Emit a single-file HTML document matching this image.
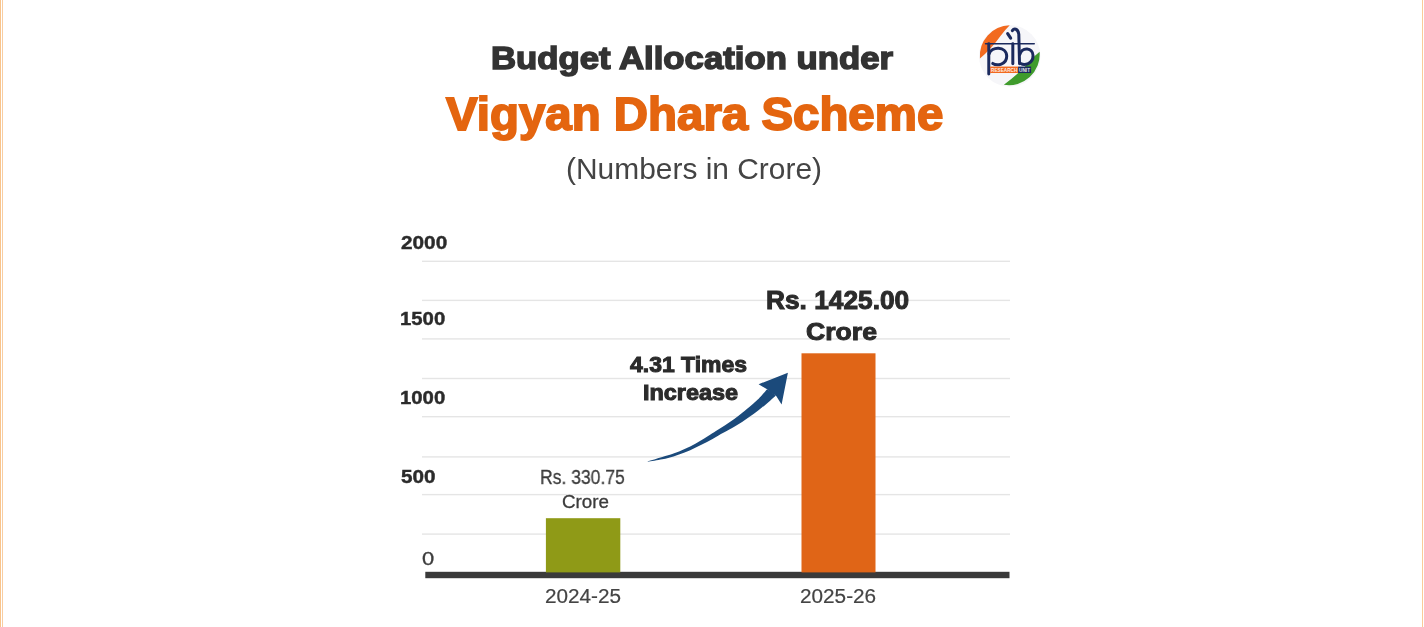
<!DOCTYPE html>
<html><head><meta charset="utf-8"><title>Vigyan Dhara Scheme</title>
<style>
html,body{margin:0;padding:0;background:#fff;}
body{width:1424px;height:627px;position:relative;overflow:hidden;font-family:"Liberation Sans",sans-serif;}
.t{position:absolute;white-space:nowrap;line-height:1;transform-origin:left top;display:block;will-change:transform;}
svg{position:absolute;left:0;top:0;}
</style></head><body>
<svg width="1424" height="627" viewBox="0 0 1424 627">
<!-- side borders -->
<rect x="0" y="0" width="1" height="627" fill="#f8c48c"/>
<rect x="2" y="0" width="1" height="627" fill="#f9cda0"/>
<rect x="1422" y="0" width="1" height="627" fill="#fbcb98"/>
<!-- gridlines -->
<rect x="422" y="260.6" width="588" height="1.4" fill="#e5e5e5"/>
<rect x="422" y="299.7" width="588" height="1.4" fill="#e5e5e5"/>
<rect x="422" y="338.2" width="588" height="1.4" fill="#e5e5e5"/>
<rect x="422" y="377.8" width="588" height="1.4" fill="#e5e5e5"/>
<rect x="422" y="416.0" width="588" height="1.4" fill="#e5e5e5"/>
<rect x="422" y="456.2" width="588" height="1.4" fill="#e5e5e5"/>
<rect x="422" y="493.9" width="588" height="1.4" fill="#e5e5e5"/>
<rect x="422" y="533.4" width="588" height="1.4" fill="#e5e5e5"/>
<!-- axis -->
<rect x="425.3" y="571.8" width="584.2" height="6.4" fill="#3a3a3a"/>
<!-- bars -->
<rect x="545.9" y="518.2" width="74.4" height="54.2" fill="#8f9a17"/>
<rect x="801.5" y="353.3" width="74" height="219.1" fill="#e06517"/>
<!-- arrow -->
<g fill="#1b4a7b">
<path d="M647.8,461.2 C650.2,460.5 658.0,458.2 662.3,456.9 C666.6,455.6 669.8,454.9 673.5,453.6 C677.2,452.3 680.9,450.8 684.6,449.1 C688.3,447.4 692.0,445.6 695.8,443.5 C699.6,441.4 703.9,438.6 707.3,436.5 C710.7,434.4 713.3,432.6 716.3,430.7 C719.3,428.8 722.2,427.1 725.1,425.2 C728.0,423.3 731.0,421.4 733.9,419.3 C736.8,417.2 739.7,414.8 742.6,412.5 C745.5,410.2 748.9,407.4 751.4,405.3 C753.9,403.2 755.8,401.5 757.5,399.8 C759.2,398.1 760.3,397.0 761.9,395.2 C763.5,393.4 766.2,390.2 767.1,389.2 L775.9,395.6 C774.9,396.5 772.2,398.9 769.9,400.9 C767.6,402.9 764.6,405.4 761.9,407.5 C759.2,409.6 756.5,411.8 753.9,413.8 C751.2,415.8 748.6,417.5 746.0,419.3 C743.4,421.1 740.8,422.8 738.0,424.5 C735.2,426.2 732.6,427.6 729.3,429.5 C726.0,431.4 721.8,433.6 718.1,435.7 C714.4,437.8 710.7,439.9 707.0,441.9 C703.3,443.8 699.5,445.6 695.8,447.4 C692.1,449.2 688.3,451.0 684.6,452.5 C680.9,454.0 677.2,455.3 673.5,456.4 C669.8,457.5 666.6,458.3 662.3,459.2 C658.0,460.1 650.2,461.3 647.8,461.7 Z"/>
<path d="M787.9,372.8 L758.6,384.2 L767.1,389.2 L771,393 L775.9,395.6 L781.6,404.6 Z"/>
</g>
<!-- logo -->
<g transform="translate(970,18) scale(0.1196)">
<circle cx="332" cy="317" r="257" fill="#f6f6f9"/>
<path d="M83,338 A257,257 0 0 1 332,60 Q296,95 255,150 Q175,262 83,338 Z" fill="#f26a1f"/>
<path d="M283,558 A257,257 0 0 0 582,283 Q520,330 470,395 Q390,480 283,558 Z" fill="#3f9b2c"/>
<g fill="none" stroke="#1b2a5e" stroke-width="25" stroke-linecap="round" stroke-linejoin="round">
<path d="M130,215 L537,215" stroke-width="13"/>
<path d="M157,215 L157,468"/>

<path d="M160,300 C176,236 305,232 307,318 C308,392 224,402 190,380"/>
<path d="M358,215 L358,383"/>
<path d="M315,130 L340,168" stroke-width="26"/>
<path d="M354,106 C368,84 400,86 408,135 L414,383"/>
<path d="M416,305 C436,240 525,244 527,314 C528,386 454,400 424,381"/>
</g>
<rect x="168" y="406" width="234" height="54" fill="#f26a1f"/>
<rect x="402" y="406" width="109" height="54" fill="#1b2a5e"/>
<text x="176" y="449" font-family="Liberation Sans, sans-serif" font-weight="700" font-size="44" fill="#fff" fill-opacity="0.9" textLength="220" lengthAdjust="spacingAndGlyphs">RESEARCH</text>
<text x="410" y="449" font-family="Liberation Sans, sans-serif" font-weight="700" font-size="44" fill="#fff" fill-opacity="0.9" textLength="92" lengthAdjust="spacingAndGlyphs">UNIT</text>
</g>
</svg>
<span class="t" style="left:490.86px;top:43.39px;font-size:31.84px;font-weight:700;color:#333333;-webkit-text-stroke:1.5px #333333;transform:scaleX(1.0913)">Budget Allocation under</span>
<span class="t" style="left:445.70px;top:91.98px;font-size:45.39px;font-weight:700;color:#e4650f;-webkit-text-stroke:1.8px #e4650f;transform:scaleX(1.0451)">Vigyan Dhara Scheme</span>
<span class="t" style="left:565.50px;top:155.25px;font-size:28.77px;font-weight:400;color:#444444;transform:scaleX(1.0402)">(Numbers in Crore)</span>
<span class="t" style="left:401.00px;top:233.22px;font-size:18.99px;font-weight:700;color:#2b2b2b;-webkit-text-stroke:0.4px #2b2b2b;transform:scaleX(1.0935)">2000</span>
<span class="t" style="left:399.71px;top:309.73px;font-size:18.16px;font-weight:700;color:#2b2b2b;-webkit-text-stroke:0.4px #2b2b2b;transform:scaleX(1.1184)">1500</span>
<span class="t" style="left:399.71px;top:389.43px;font-size:18.16px;font-weight:700;color:#2b2b2b;-webkit-text-stroke:0.4px #2b2b2b;transform:scaleX(1.1184)">1000</span>
<span class="t" style="left:401.01px;top:468.43px;font-size:18.16px;font-weight:700;color:#2b2b2b;-webkit-text-stroke:0.4px #2b2b2b;transform:scaleX(1.1375)">500</span>
<span class="t" style="left:422.42px;top:550.84px;font-size:17.74px;font-weight:400;color:#3c3c3c;-webkit-text-stroke:0.3px #3c3c3c;transform:scaleX(1.2356)">0</span>
<span class="t" style="left:539.83px;top:468.22px;font-size:19.41px;font-weight:400;color:#3c3c3c;-webkit-text-stroke:0.3px #3c3c3c;transform:scaleX(0.9038)">Rs. 330.75</span>
<span class="t" style="left:561.72px;top:492.80px;font-size:18.02px;font-weight:400;color:#3c3c3c;-webkit-text-stroke:0.3px #3c3c3c;transform:scaleX(1.0430)">Crore</span>
<span class="t" style="left:544.97px;top:585.66px;font-size:20.25px;font-weight:400;color:#444444;-webkit-text-stroke:0.2px #444444;transform:scaleX(1.0234)">2024-25</span>
<span class="t" style="left:799.56px;top:585.66px;font-size:20.25px;font-weight:400;color:#444444;-webkit-text-stroke:0.2px #444444;transform:scaleX(1.0248)">2025-26</span>
<span class="t" style="left:765.79px;top:287.09px;font-size:26.12px;font-weight:700;color:#2b2b2b;-webkit-text-stroke:1.0px #2b2b2b;transform:scaleX(1.0069)">Rs. 1425.00</span>
<span class="t" style="left:806.08px;top:320.13px;font-size:24.30px;font-weight:700;color:#2b2b2b;-webkit-text-stroke:1.0px #2b2b2b;transform:scaleX(1.0942)">Crore</span>
<span class="t" style="left:629.67px;top:353.60px;font-size:22.21px;font-weight:700;color:#2b2b2b;-webkit-text-stroke:1.0px #2b2b2b;transform:scaleX(1.0342)">4.31 Times</span>
<span class="t" style="left:643.13px;top:381.73px;font-size:21.23px;font-weight:700;color:#2b2b2b;-webkit-text-stroke:1.0px #2b2b2b;transform:scaleX(1.1025)">Increase</span>
</body></html>
